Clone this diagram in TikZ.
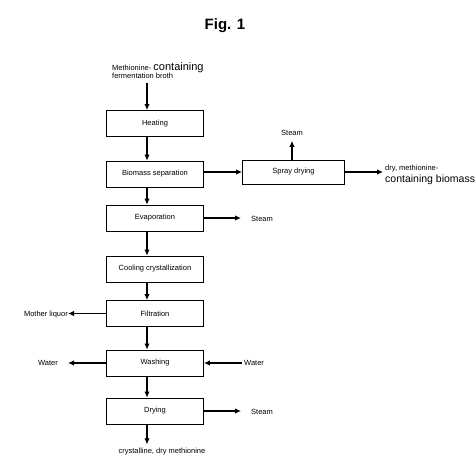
\documentclass[tikz,border=0pt]{standalone}
\usepackage{fontspec}
\setmainfont{Liberation Sans}
\usetikzlibrary{arrows.meta}
\begin{document}
\begin{tikzpicture}[x=1pt,y=-1pt,
  box/.style={draw,line width=0.9pt,minimum width=97pt,minimum height=26pt,inner sep=0pt,font=\fontsize{7.5}{8}\selectfont},
  lbl/.style={inner sep=0pt,font=\fontsize{7.5}{8}\selectfont},
  arr/.style={line width=1.1pt,-{Latex[length=6pt,width=5.5pt]}}]
\useasboundingbox (0,0) rectangle (474,476);
\node[font=\fontsize{15}{17}\selectfont\bfseries] (title) at (225,26) {Fig. 1};
\node[box] (heat) at (155,123.5) {Heating};
\node[box] (bio) at (155,174) {Biomass separation};
\node[box] (evap) at (155,218) {Evaporation};
\node[box] (cool) at (155,269) {Cooling crystallization};
\node[box] (filt) at (155,313.5) {Filtration};
\node[box] (wash) at (155,363) {Washing};
\node[box] (dry) at (155,411) {Drying};
\node[box,minimum width=102pt,minimum height=24pt] (spray) at (293.5,172) {Spray drying};
\node[lbl,align=left,anchor=west] (feed) at (112,71) {Methionine- {\fontsize{11}{11}\selectfont containing}\\[0pt]fermentation broth};
\coordinate (feedend) at (147,83);
\node[lbl] (steam1) at (292,133) {Steam};
\node[lbl,align=left,anchor=west] (biomass) at (385,175) {dry, methionine-\\[1.5pt]{\fontsize{10.5}{10.5}\selectfont containing biomass}};
\node[lbl,anchor=west] (steam2) at (251,219) {Steam};
\node[lbl,anchor=east] (mother) at (68,315) {Mother liquor};
\node[lbl,anchor=east] (water1) at (58,363) {Water};
\node[lbl,anchor=west] (water2) at (244,363) {Water};
\node[lbl,anchor=west] (steam3) at (251,412) {Steam};
\node[lbl] (product) at (162,452) {crystalline, dry methionine};
\draw[arr] (feedend) -- (heat.north -| feedend);
\draw[arr] (heat.south -| feedend) -- (bio.north -| feedend);
\draw[arr] (bio.south -| feedend) -- (evap.north -| feedend);
\draw[arr] (evap.south -| feedend) -- (cool.north -| feedend);
\draw[arr] (cool.south -| feedend) -- (filt.north -| feedend);
\draw[arr] (filt.south -| feedend) -- (wash.north -| feedend);
\draw[arr] (wash.south -| feedend) -- (dry.north -| feedend);
\draw[arr] (dry.south -| feedend) -- ([yshift=4pt]product.north -| feedend);
\draw[arr] (bio.east |- spray.west) -- (spray.west);
\draw[arr] (spray.north -| steam1) -- ([yshift=-5pt]steam1.south);
\draw[arr] (spray.east) -- ([xshift=-2pt]biomass.west |- spray.east);
\draw[arr] (evap.east) -- ([xshift=-10pt]steam2.west |- evap.east);
\draw[arr] (filt.west) -- ([xshift=0pt]mother.east |- filt.west);
\draw[arr] (wash.west) -- ([xshift=10pt]water1.east |- wash.west);
\draw[arr] ([xshift=-2pt]water2.west |- wash.east) -- (wash.east);
\draw[arr] (dry.east) -- ([xshift=-10pt]steam3.west |- dry.east);
\end{tikzpicture}
\end{document}
